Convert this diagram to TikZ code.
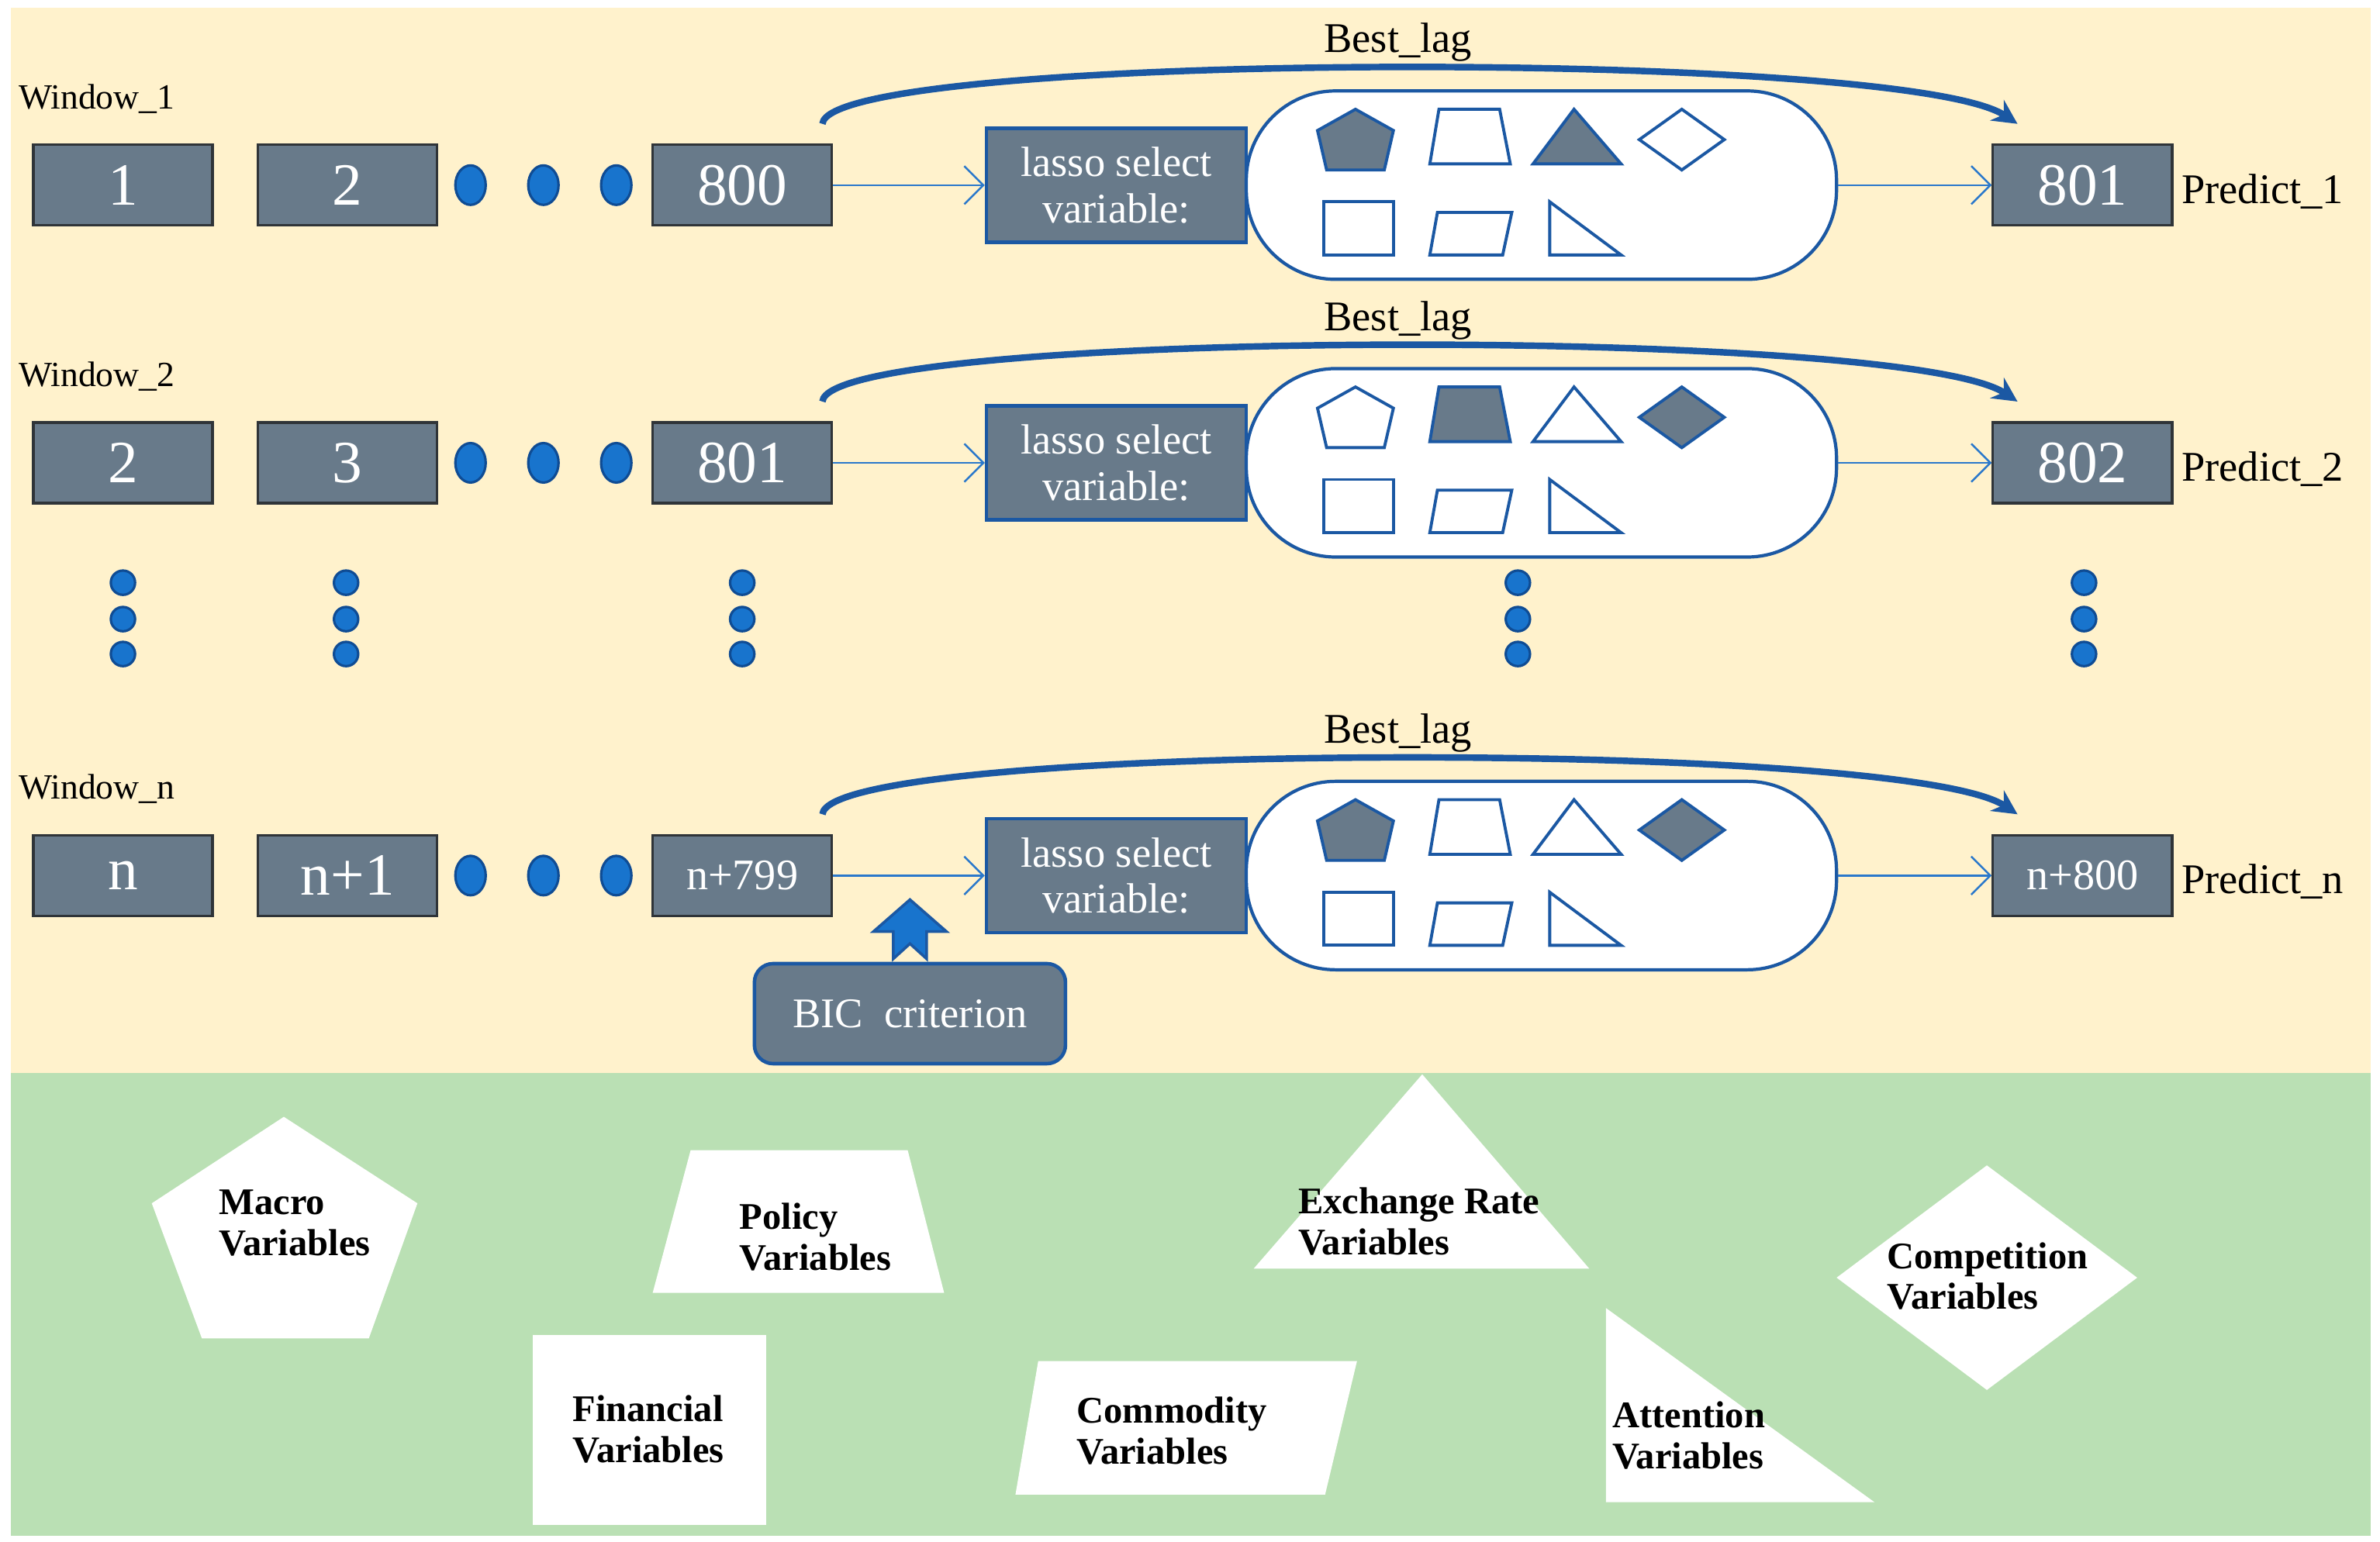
\documentclass[tikz,border=0pt]{standalone}
\usepackage{fontspec}
\setmainfont{Liberation Serif}
\usepackage{tikz}
\usetikzlibrary{arrows.meta, positioning, calc}
\usepackage{xcolor}

\definecolor{cream}{HTML}{FFF2CC}
\definecolor{meadow}{HTML}{BAE0B4}
\definecolor{slate}{HTML}{687A8A}
\definecolor{boxline}{HTML}{2F3438}
\definecolor{capline}{HTML}{1B58A3}
\definecolor{arrowblue}{HTML}{2A78CB}
\definecolor{dotblue}{HTML}{1874CD}
\definecolor{dotline}{HTML}{0F4C94}

\tikzset{
  numbox/.style={draw=boxline, fill=slate, text=white, line width=0.9pt,
    minimum width=23.1mm, minimum height=10.4mm, inner sep=0pt,
    font=\fontsize{22}{24}\selectfont},
  lassobox/.style={draw=capline, fill=slate, text=white, line width=1.3pt,
    minimum width=33.5mm, minimum height=14.7mm, inner sep=0pt, align=center,
    font=\fontsize{15.5}{17}\selectfont},
  capsule/.style={draw=capline, fill=white, line width=1.2pt,
    rounded corners=11.5mm, minimum width=76.1mm, minimum height=24.3mm},
  bicbox/.style={draw=capline, fill=slate, text=white, line width=1.3pt,
    rounded corners=2.4mm, minimum width=40.1mm, minimum height=12.9mm,
    font=\fontsize{15.5}{17}\selectfont},
  dot/.style={fill=dotblue, draw=dotline, line width=0.9pt},
  thinarrow/.style={draw=arrowblue, line width=0.7pt,
    -{Straight Barb[length=7pt,width=14pt]}},
  lagarrow/.style={draw=capline, line width=2.4pt,
    -{Stealth[length=9pt,width=9pt]}},
  inshape/.style={draw=capline, line width=1.1pt, fill=white},
  txt/.style={font=\fontsize{15.5}{17}\selectfont, inner sep=0pt},
  winlbl/.style={font=\fontsize{13}{15}\selectfont, inner sep=0pt, anchor=west},
  varlabel/.style={font=\fontsize{13.8}{15}\selectfont\bfseries, align=left,
    anchor=west, inner sep=0pt}
}

% the seven variable groups inside one capsule
\newcommand{\varshapes}[5]{%
  \begin{scope}[shift={#1}]
    \draw[inshape, fill=#2] (-122.5,-50) -- (-97.5,-36) -- (-103.5,-10) -- (-141.5,-10) -- (-147.5,-36) -- cycle;
    \draw[inshape, fill=#3] (-67.5,-50) -- (-27.5,-50) -- (-20.5,-14) -- (-73.5,-14) -- cycle;
    \draw[inshape, fill=#4] (21.5,-50) -- (52.5,-14) -- (-5.5,-14) -- cycle;
    \draw[inshape, fill=#5] (92.5,-50) -- (120.5,-30) -- (92.5,-10) -- (64.5,-30) -- cycle;
    \draw[inshape] (-143.5,11) rectangle (-97.5,46);
    \draw[inshape] (-68.5,18) -- (-19.5,18) -- (-25.5,46) -- (-73.5,46) -- cycle;
    \draw[inshape] (5.5,11) -- (5.5,46) -- (52.5,46) -- cycle;
  \end{scope}}

\begin{document}
\begin{tikzpicture}[x=0.1957mm, y=-0.1957mm]
  \useasboundingbox (0,0) rectangle (1568,1016);
  \fill[cream] (7,5) rectangle (1562,707);
  \fill[meadow] (7,707) rectangle (1562,1012);

  % rolling windows
  \foreach \r/\y/\na/\nb/\nc/\nd/\fs/\fa/\fb/\fc/\fd in {
      1/122/1/2/800/801/22/slate/white/slate/white,
      2/305/2/3/801/802/22/white/slate/white/slate,
      n/577/n/n+1/n+799/n+800/16/slate/white/white/slate} {
    \node[winlbl] (w\r) at (12,\y-57) {Window\_\r};
    \node[numbox] (a\r) at (81,\y) {\na};
    \node[numbox] (b\r) at (229,\y) {\nb};
    \foreach \x in {310,358,406}
      \draw[dot] (\x,\y) ellipse [x radius=10, y radius=13];
    \node[numbox, font=\fontsize{\fs}{\fs}\selectfont] (c\r) at (489,\y) {\nc};
    \node[lassobox] (l\r) at (735.5,\y) {lasso select\\variable:};
    \node[capsule] (cap\r) at (1015.5,\y) {};
    \varshapes{(cap\r.center)}{\fa}{\fb}{\fc}{\fd}
    \node[numbox, font=\fontsize{\fs}{\fs}\selectfont] (d\r) at (1372,\y) {\nd};
    \node[txt, anchor=west] (p\r) at (1437,\y+4) {Predict\_\r};
    \draw[thinarrow] (c\r) -- (l\r);
    \draw[thinarrow] (cap\r) -- (d\r);
    % best lag jump
    \coordinate (s\r) at ($(c\r.north east)+(-7,-13)$);
    \coordinate (e\r) at ($(d\r.north west)+(17,-13)$);
    \draw[lagarrow] (s\r) .. controls +(4,-48) and +(-75,-50) .. (e\r);
    \node[txt] (bl\r) at (921,\y-94) {Best\_lag};
  }

  % vertical ellipsis
  \foreach \x in {81,228,489,1000,1373}
    \foreach \y in {384,408,431}
      \draw[dot] (\x,\y) circle [radius=8];

  % BIC
  \node[bicbox] (bic) at (599.5,668) {BIC\ \ criterion};
  \begin{scope}[shift={(bic.north)}]
    \draw[fill=dotblue, draw=capline, line width=1pt]
      (0,-41) -- (24,-20) -- (11,-20) -- (11,-2) -- (0,-12) -- (-11,-2) -- (-11,-20) -- (-24,-20) -- cycle;
  \end{scope}

  % variable groups
  \fill[white] (187,736) -- (275,793) -- (243,882) -- (133,882) -- (100,793) -- cycle;
  \node[varlabel] (macro) at (144,806) {Macro\\Variables};
  \fill[white] (455,758) -- (598,758) -- (622,852) -- (430,852) -- cycle;
  \node[varlabel] (policy) at (487,815) {Policy\\Variables};
  \fill[white] (351,880) rectangle (505,1005);
  \node[varlabel] (financial) at (377,942) {Financial\\Variables};
  \fill[white] (684,897) -- (894,897) -- (873,985) -- (669,985) -- cycle;
  \node[varlabel] (commodity) at (709,943) {Commodity\\Variables};
  \fill[white] (937,708) -- (1047,836) -- (826,836) -- cycle;
  \node[varlabel] (exchange) at (855,805) {Exchange Rate\\Variables};
  \fill[white] (1058,862) -- (1235,990) -- (1058,990) -- cycle;
  \node[varlabel] (attention) at (1062,946) {Attention\\Variables};
  \fill[white] (1309,768) -- (1408,842) -- (1309,916) -- (1210,842) -- cycle;
  \node[varlabel] (competition) at (1243,841) {Competition\\Variables};
\end{tikzpicture}
\end{document}
